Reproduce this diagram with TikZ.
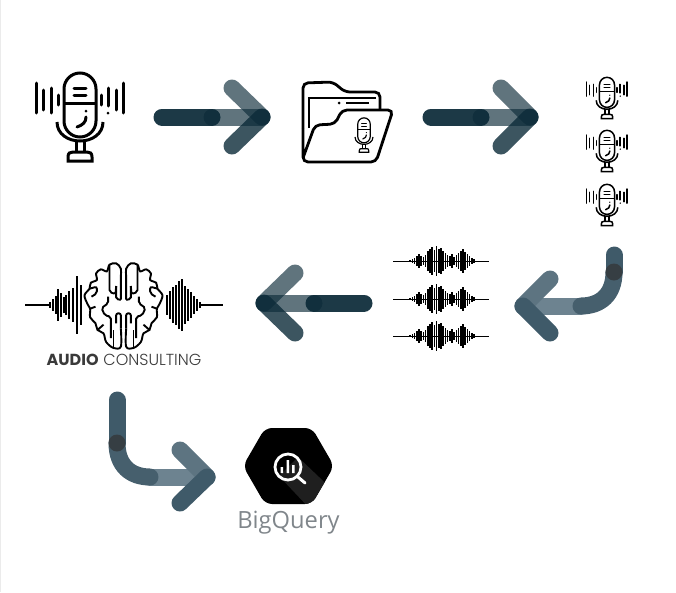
\documentclass[tikz,border=0pt]{standalone}
\usepackage{fontspec}
\usepackage{xcolor}
\usetikzlibrary{positioning,arrows.meta}
\newfontfamily\bqfont{Open Sans}
\newfontfamily\logofont{Poppins}
\newfontfamily\logolight{Poppins Light}
\definecolor{FlowBlue}{HTML}{0B2A38}
\definecolor{BentShaft}{HTML}{6D8390}
\definecolor{BentUp}{HTML}{5D7481}
\definecolor{BentLow}{HTML}{3F5A69}
\definecolor{BentCurve}{HTML}{465F6D}
\definecolor{BentJoin}{HTML}{363E43}
\definecolor{BqGray}{HTML}{80868B}
\definecolor{LogoGray}{HTML}{3A3A3A}
\newcommand{\micbodycode}{
  \draw (-16,-28) arc (180:360:16) -- (16,4) arc (0:180:16) -- cycle;
  \draw (-16,-14) -- (16,-14);
  \draw[line cap=round] (-6,-29) -- (6,-29);
  \draw[line cap=round] (-6,-22) -- (6,-22);
  \draw[line cap=round] (-3,10) .. controls (3,8) and (6,5) .. (6,0);
  \fill (6,-6) circle (1.5);
  \draw (-23,5) .. controls (-23,17) and (-12,24) .. (0,24) .. controls (12,24) and (23,17) .. (23,5);
  \draw (-4,24) -- (-4,35);
  \draw (4,24) -- (4,35);
  \draw (-12,44) -- (-12,40) .. controls (-12,36) and (-10,35) .. (-7,35) -- (7,35) .. controls (10,35) and (12,36) .. (12,40) -- (12,44) -- cycle;
}
\tikzset{
  iconbox/.style={inner sep=0pt,outer sep=0pt},
  flowline/.style={draw=FlowBlue,line width=17pt,line cap=round},
  bentline/.style={line width=17pt,line cap=round},
  micbody/.pic={\micbodycode},
  micicon/.pic={
    \micbodycode
    \foreach \x/\a/\b in {-44/-34/-4,-37/-27/-7,-29/-29/-4,-22/-22/-12,21/-22/-12,36/-27/-7,43/-34/-4}
      \draw[line cap=round] (\x,\a) -- (\x,\b);
    \draw[line cap=round] (28,-29) -- (28,-11);
    \fill (28,-4) circle (1.5);
  },
  wavebars/.pic={
    \draw[line width=1pt] (-48,0) -- (48,0);
    \foreach \h [count=\i] in {1,2,3,5,7,5,4,6,10,12,14,11,15,12,13,10,8,6,5,7,4,6,8,10,12,9,7,5,3,2}
      \draw[line width=1.5pt] (-33+\i*2.2,-\h) -- (-33+\i*2.2,\h);
  },
  brainhalf/.pic={
    % outline of one side, the other side is its mirror
    \draw plot[smooth,tension=.55] coordinates {(-8,125) (-8,60) (-8,32) (-22,16) (-42,20) (-50,40) (-68,34) (-82,46) (-80,66) (-98,74) (-102,92) (-117,112) (-108,138) (-100,152) (-100,178) (-84,196) (-78,216) (-60,226) (-52,252) (-30,270) (-8,266) (-8,212)};
    \draw[rounded corners=2pt] (-42,20) -- (-42,102) -- (-24,108) -- (-22,84);
    \draw[rounded corners=2pt] (-22,84) -- (-22,124) -- (-8,125);
    \draw[rounded corners=2pt] (-46,116) -- (-46,136) -- (-66,150) -- (-56,172) -- (-38,176) -- (-38,240);
    \draw[rounded corners=2pt] (-22,196) -- (-22,166) -- (-8,166) -- (-8,212);
    \draw[rounded corners=2pt] (-102,92) -- (-80,86) -- (-80,106) -- (-96,116);
    \draw[rounded corners=2pt] (-100,152) -- (-84,146);
    \draw[rounded corners=2pt] (-78,216) -- (-60,200);
    \draw[rounded corners=2pt] (-30,270) -- (-30,216);
  }
}
% one straight flow arrow head with its last shaft part
\newcommand{\flowhead}[4]{
  \draw[flowline,draw opacity=.65] (#1) -- (#2);
  \draw[flowline,draw opacity=.65] (#3) -- (#2);
  \draw[flowline,draw opacity=.8] (#4) -- (#2);
}
% same for the bent arrows, these have no dark tip
\newcommand{\benthead}[4]{
  \draw[bentline,BentShaft] (#1) -- (#2);
  \draw[bentline,BentUp] (#3) -- (#2);
  \draw[bentline,BentLow] (#4) -- (#2);
}
\begin{document}
\begin{tikzpicture}[x=1pt,y=-1pt]
  \useasboundingbox (0,0) rectangle (676,592);
  \draw[black!8,line width=1pt] (0.5,0) -- (0.5,592);

  % icons
  \node[iconbox,minimum width=92,minimum height=89] (mic) at (80,117) {};
  \pic[line width=3pt] at (mic) {micicon};

  \node[iconbox,minimum width=91,minimum height=81] (folder) at (348,122) {};
  \draw[line width=2.8pt,rounded corners=5pt] (303,128) -- (303,83) -- (333,82) -- (345,92) -- (380,92) -- (380,110);
  \draw[line width=2.8pt] (309,128) -- (309,98) -- (376,98);
  \draw[line width=2.8pt,rounded corners=5pt] (303,128) -- (303,162) -- (376,162) -- (393,110) -- (342,110) -- (335,124) -- (315,125) -- (303,158);
  \fill (339,103) circle (1.5);
  \draw[line width=2pt] (346,103) -- (369,103);
  \pic[scale=.39,line width=1.2pt] at (364,135) {micbody};

  \node[iconbox,minimum width=42,minimum height=43] (clipa) at (607,98) {};
  \node[iconbox,minimum width=42,minimum height=43,below=10pt of clipa] (clipb) {};
  \node[iconbox,minimum width=42,minimum height=43,below=11pt of clipb] (clipc) {};
  \foreach \n in {clipa,clipb,clipc}
    \pic[scale=.47,line width=1.5pt] at (\n) {micicon};

  \node[iconbox,minimum width=96,minimum height=30] (wavea) at (441,261) {};
  \node[iconbox,minimum width=96,minimum height=30,below=8pt of wavea] (waveb) {};
  \node[iconbox,minimum width=96,minimum height=30,below=7pt of waveb] (wavec) {};
  \foreach \n in {wavea,waveb,wavec}
    \pic at (\n) {wavebars};

  % brain logo
  \node[iconbox,minimum width=198,minimum height=90] (brain) at (124,305) {};
  \begin{scope}[line width=1.9pt]
    \pic[scale=1/3] at (123.5,258) {brainhalf};
    \pic[xscale=-1/3,yscale=1/3] at (123.5,258) {brainhalf};
  \end{scope}
  \draw[line width=1.2pt] (25,305) -- (50,305);
  \draw[line width=1.2pt] (200,305) -- (223,305);
  \foreach \x/\h in {50/3,53/6,56/9,58/16,61/12,64/8,66/10,69/14,73/17,77/29,81/20}
    \draw[line width=1.8pt] (\x,305-\h) -- (\x,305+\h);
  \foreach \x/\h in {167/10,170/14,173/18,176/20,179/24,182/26,185/19,188/16,191/13,194/9,197/6,200/3}
    \draw[line width=1.8pt] (\x,305-\h) -- (\x,305+\h);
  \node[iconbox,text=LogoGray,font=\fontsize{16}{18}\selectfont,below=10pt of brain.south,anchor=center] (logotext) {{\logofont\bfseries AUDIO} {\logolight CONSULTING}};

  % bigquery
  \node[iconbox,minimum width=87,minimum height=76] (bqhex) at (288.5,466) {};
  \begin{scope}
    \clip[rounded corners=7pt] (243,466) -- (265,428) -- (312,428) -- (334,466) -- (312,504) -- (265,504) -- cycle;
    \fill (240,425) rectangle (340,510);
    \fill[black!88] (298,457) -- (340,497) -- (340,510) -- (311,510) -- (279,476) -- cycle;
  \end{scope}
  \draw[white,line width=2.8pt] (288,467) circle (13);
  \draw[white,line width=3pt,line cap=round] (298,477) -- (305,483);
  \fill[white] (280.5,467) rectangle (283,473) (286.5,460) rectangle (289,473) (292,465) rectangle (294.5,473);
  \node[iconbox,text=BqGray,font=\bqfont\fontsize{23.7}{26}\selectfont,below=7pt of bqhex] (bqlabel) {BigQuery};

  % arrows
  \coordinate (a1s) at (162,117);
  \coordinate (a1m) at (212,117);
  \coordinate (a1t) at (262,117);
  \coordinate (a1u) at (232,88);
  \coordinate (a1l) at (232,146);
  \draw[flowline,draw opacity=.93] (a1s) -- (a1m);
  \flowhead{a1m}{a1t}{a1u}{a1l}

  \coordinate (a2s) at (431,117);
  \coordinate (a2m) at (481,117);
  \coordinate (a2t) at (530,117);
  \coordinate (a2u) at (501,88);
  \coordinate (a2l) at (501,146);
  \draw[flowline,draw opacity=.93] (a2s) -- (a2m);
  \flowhead{a2m}{a2t}{a2u}{a2l}

  \coordinate (a3s) at (364,303);
  \coordinate (a3m) at (314,303);
  \coordinate (a3t) at (264,303);
  \coordinate (a3u) at (295,273);
  \coordinate (a3l) at (295,333);
  \draw[flowline,draw opacity=.93] (a3s) -- (a3m);
  \flowhead{a3m}{a3t}{a3u}{a3l}

  \coordinate (a4s) at (614,255);
  \coordinate (a4b) at (614,272);
  \coordinate (a4m) at (581,306);
  \coordinate (a4t) at (523,306);
  \coordinate (a4u) at (550,279);
  \coordinate (a4l) at (550,333);
  \benthead{a4m}{a4t}{a4u}{a4l}
  \draw[bentline,BentLow] (a4s) -- (a4b);
  \draw[bentline,BentCurve] (a4b) .. controls (614,295) and (600,306) .. (a4m);
  \fill[BentJoin] (a4b) circle (8.5);

  \coordinate (a5s) at (117,400);
  \coordinate (a5b) at (117,443);
  \coordinate (a5m) at (150,477);
  \coordinate (a5t) at (207,477);
  \coordinate (a5u) at (180,450);
  \coordinate (a5l) at (180,503);
  \benthead{a5m}{a5t}{a5u}{a5l}
  \draw[bentline,BentLow] (a5s) -- (a5b);
  \draw[bentline,BentCurve] (a5b) .. controls (117,466) and (131,477) .. (a5m);
  \fill[BentJoin] (a5b) circle (8.5);
\end{tikzpicture}
\end{document}
